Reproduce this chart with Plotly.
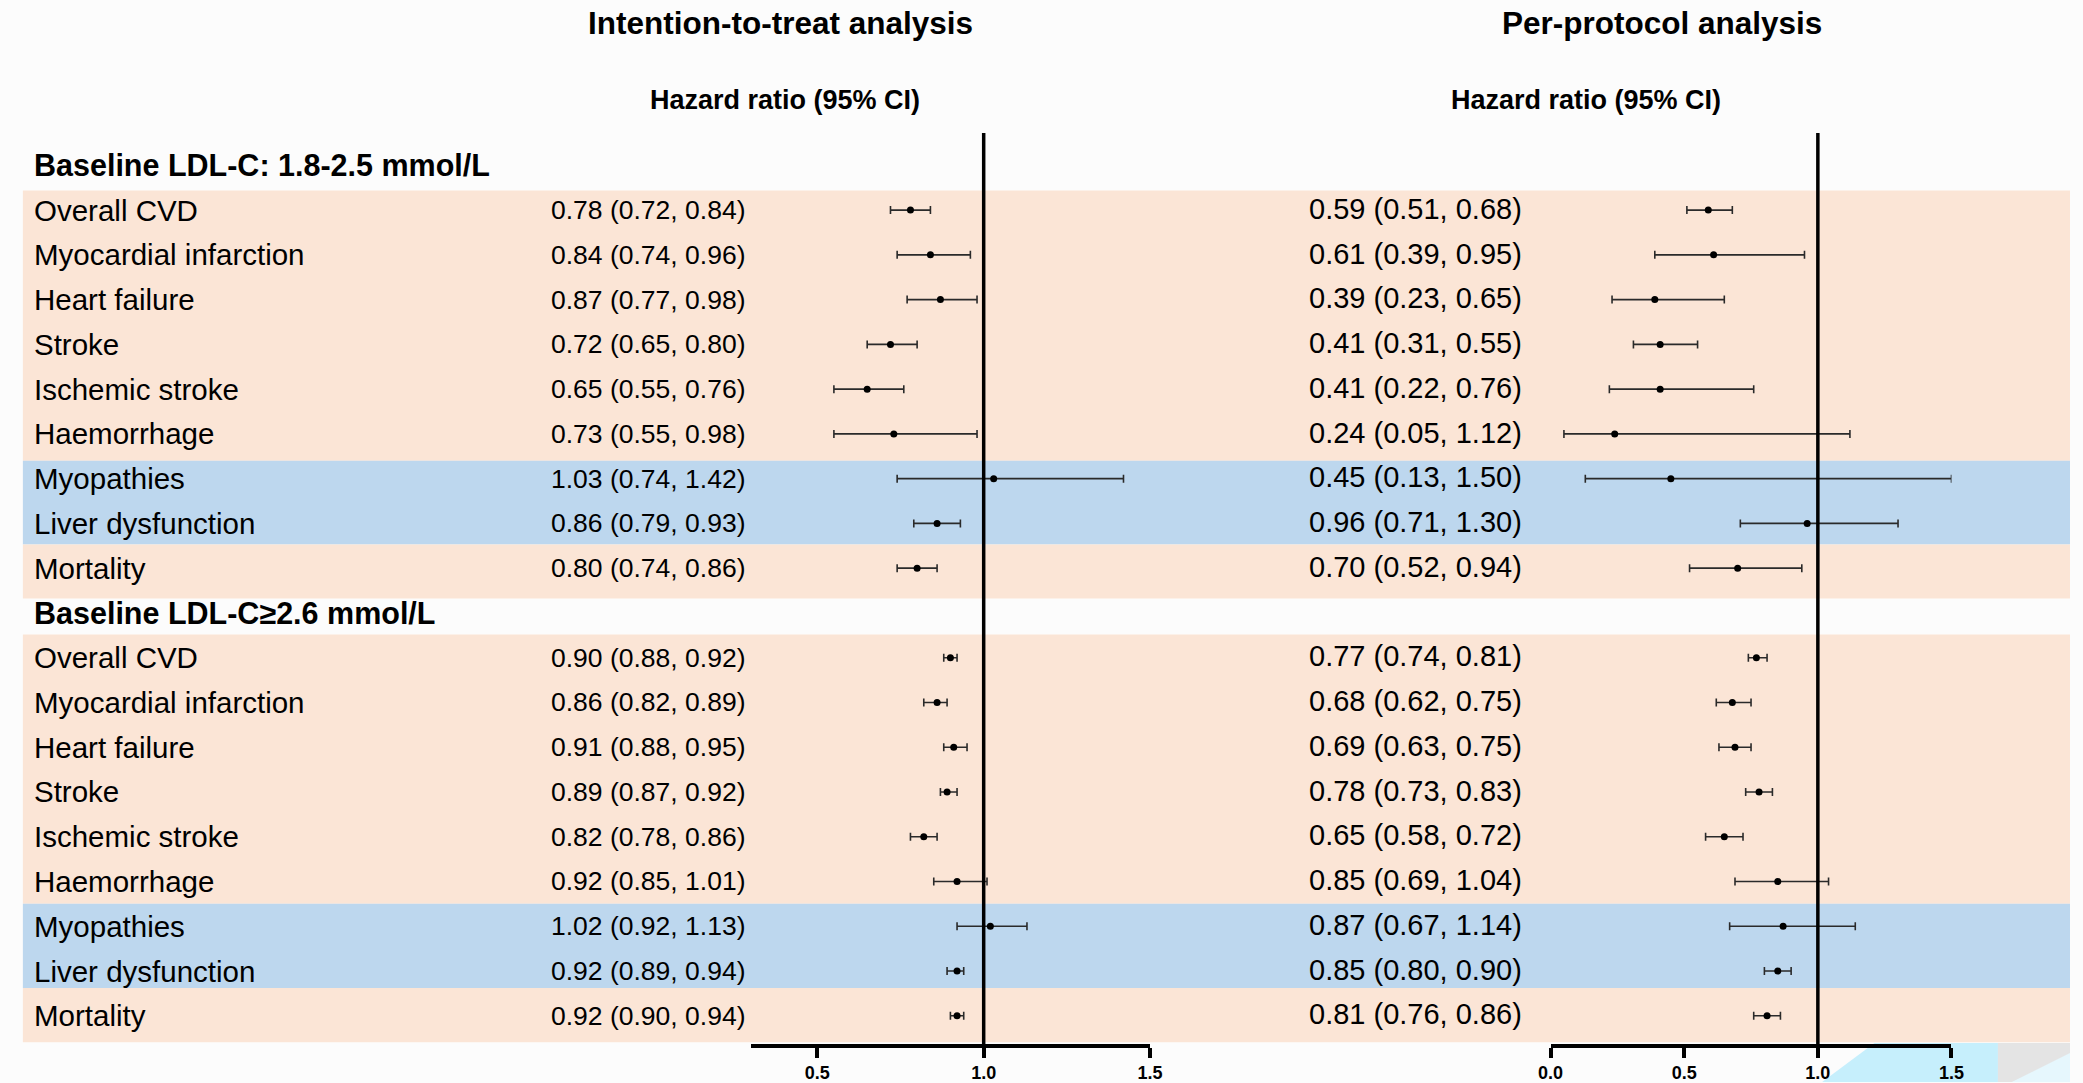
import plotly.graph_objects as go

# ---------------- data ----------------
group_headers = ["Baseline LDL-C: 1.8-2.5 mmol/L", "Baseline LDL-C\u22652.6 mmol/L"]
outcomes = ["Overall CVD", "Myocardial infarction", "Heart failure", "Stroke",
            "Ischemic stroke", "Haemorrhage", "Myopathies", "Liver dysfunction", "Mortality"]

itt_hr_g1 = [0.78, 0.84, 0.87, 0.72, 0.65, 0.73, 1.03, 0.86, 0.80]
itt_lo_g1 = [0.72, 0.74, 0.77, 0.65, 0.55, 0.55, 0.74, 0.79, 0.74]
itt_hi_g1 = [0.84, 0.96, 0.98, 0.80, 0.76, 0.98, 1.42, 0.93, 0.86]
itt_hr_g2 = [0.90, 0.86, 0.91, 0.89, 0.82, 0.92, 1.02, 0.92, 0.92]
itt_lo_g2 = [0.88, 0.82, 0.88, 0.87, 0.78, 0.85, 0.92, 0.89, 0.90]
itt_hi_g2 = [0.92, 0.89, 0.95, 0.92, 0.86, 1.01, 1.13, 0.94, 0.94]

pp_hr_g1 = [0.59, 0.61, 0.39, 0.41, 0.41, 0.24, 0.45, 0.96, 0.70]
pp_lo_g1 = [0.51, 0.39, 0.23, 0.31, 0.22, 0.05, 0.13, 0.71, 0.52]
pp_hi_g1 = [0.68, 0.95, 0.65, 0.55, 0.76, 1.12, 1.50, 1.30, 0.94]
pp_hr_g2 = [0.77, 0.68, 0.69, 0.78, 0.65, 0.85, 0.87, 0.85, 0.81]
pp_lo_g2 = [0.74, 0.62, 0.63, 0.73, 0.58, 0.69, 0.67, 0.80, 0.76]
pp_hi_g2 = [0.81, 0.75, 0.75, 0.83, 0.72, 1.04, 1.14, 0.90, 0.86]

left_ticks = [0.5, 1.0, 1.5]
left_ticktext = ["0.5", "1.0", "1.5"]
right_ticks = [0.0, 0.5, 1.0, 1.5]
right_ticktext = ["0.0", "0.5", "1.0", "1.5"]

titles = ["Intention-to-treat analysis", "Per-protocol analysis"]
col_header = "Hazard ratio (95% CI)"

# ---------------- layout constants ----------------
W, H = 2083, 1083
FONT = "Liberation Sans, Arial, Helvetica, sans-serif"
PEACH = "#fbe5d6"
BLUE = "#bdd7ee"
BG = "#fcfcfc"

# slot positions: header slot 0, rows 1..9, header 10, rows 11..19
g1_slots = list(range(1, 10))
g2_slots = list(range(11, 20))
header_slots = [0, 10]

def px_to_paper_x(p):
    return p / W

def px_to_paper_y(p):
    return 1 - p / H

Y0_PX, ROW_PX = 165.5, 44.8
y_top = (0 - Y0_PX) / ROW_PX
y_bot = (H - Y0_PX) / ROW_PX
axis_px = 1047
axis_slot = (axis_px - Y0_PX) / ROW_PX
vline_top_slot = (133 - Y0_PX) / ROW_PX

def fmt(h, l, u):
    return f"{h:.2f} ({l:.2f}, {u:.2f})"

fig = go.Figure()

# background bands (slot units)
bands = [(0.56, 6.6, PEACH), (6.6, 8.47, BLUE), (8.47, 9.68, PEACH),
         (10.48, 16.5, PEACH), (16.5, 18.38, BLUE), (18.38, 19.59, PEACH)]
shapes = []
for y0, y1, c in bands:
    shapes.append(dict(type="rect", xref="paper", yref="y", x0=10 / W, x1=1,
                       y0=y0, y1=y1, fillcolor=c, line=dict(width=0), layer="below"))

# decorative corner pieces (bottom-right)
def path(points):
    s = "M " + " L ".join(f"{px_to_paper_x(x)},{px_to_paper_y(y)}" for x, y in points) + " Z"
    return s
shapes.append(dict(type="path", xref="paper", yref="paper",
                   path=path([(1832, 1083), (1885, 1044), (2010, 1044), (2010, 1083)]),
                   fillcolor="#c6effc", line=dict(width=0), layer="below"))
shapes.append(dict(type="path", xref="paper", yref="paper",
                   path=path([(2010, 1044), (2083, 1044), (2083, 1083), (2010, 1083)]),
                   fillcolor="#e4e4e4", line=dict(width=0), layer="below"))
shapes.append(dict(type="path", xref="paper", yref="paper",
                   path=path([(2024, 1083), (2083, 1054), (2083, 1083)]),
                   fillcolor="#e6f7fd", line=dict(width=0), layer="below"))

# reference lines at HR = 1
for xr in ["x", "x2"]:
    shapes.append(dict(type="line", xref=xr, yref="y", x0=1, x1=1,
                       y0=vline_top_slot, y1=axis_slot,
                       line=dict(color="black", width=3.5)))

def add_forest(hr, lo, hi, slots, xaxis):
    fig.add_trace(go.Scatter(
        x=hr, y=slots, mode="markers", xaxis=xaxis, yaxis="y",
        marker=dict(color="black", size=7),
        error_x=dict(type="data", symmetric=False,
                     array=[u - h for h, u in zip(hr, hi)],
                     arrayminus=[h - l for h, l in zip(hr, lo)],
                     color="#2a2a2a", thickness=1.6, width=4),
        cliponaxis=False, showlegend=False, hoverinfo="skip"))

add_forest(itt_hr_g1, itt_lo_g1, itt_hi_g1, g1_slots, "x")
add_forest(itt_hr_g2, itt_lo_g2, itt_hi_g2, g2_slots, "x")
add_forest(pp_hr_g1, pp_lo_g1, pp_hi_g1, g1_slots, "x2")
add_forest(pp_hr_g2, pp_lo_g2, pp_hi_g2, g2_slots, "x2")

ann = []
# titles
for t, cx in zip(titles, [777, 1670]):
    ann.append(dict(text=t, x=px_to_paper_x(cx), y=px_to_paper_y(23), xref="paper", yref="paper",
                    xanchor="center", yanchor="middle", showarrow=False,
                    font=dict(family=FONT, size=31.5, color="black", weight="bold")))
for cx in [782, 1593]:
    ann.append(dict(text=col_header, x=px_to_paper_x(cx), y=px_to_paper_y(100), xref="paper", yref="paper",
                    xanchor="center", yanchor="middle", showarrow=False,
                    font=dict(family=FONT, size=27, color="black", weight="bold")))
# group headers
for gh, s in zip(group_headers, header_slots):
    ann.append(dict(text=gh, x=px_to_paper_x(19), y=s, xref="paper", yref="y",
                    xanchor="left", yanchor="middle", showarrow=False,
                    font=dict(family=FONT, size=30.5, color="black", weight="bold")))
# outcome labels and values
for slots, (ih, il, iu), (ph, pl, pu) in [
        (g1_slots, (itt_hr_g1, itt_lo_g1, itt_hi_g1), (pp_hr_g1, pp_lo_g1, pp_hi_g1)),
        (g2_slots, (itt_hr_g2, itt_lo_g2, itt_hi_g2), (pp_hr_g2, pp_lo_g2, pp_hi_g2))]:
    for i, s in enumerate(slots):
        ann.append(dict(text=outcomes[i], x=px_to_paper_x(19), y=s, xref="paper", yref="y",
                        xanchor="left", yanchor="middle", showarrow=False,
                        font=dict(family=FONT, size=29.5, color="black")))
        ann.append(dict(text=fmt(ih[i], il[i], iu[i]), x=px_to_paper_x(543), y=s, xref="paper", yref="y",
                        xanchor="left", yanchor="middle", showarrow=False,
                        font=dict(family=FONT, size=26.5, color="black")))
        ann.append(dict(text=fmt(ph[i], pl[i], pu[i]), x=px_to_paper_x(1310), y=s - 0.03, xref="paper", yref="y",
                        xanchor="left", yanchor="middle", showarrow=False,
                        font=dict(family=FONT, size=29, color="black")))

axis_common = dict(showgrid=False, zeroline=False, showline=True, linecolor="black",
                   linewidth=3.5, ticks="outside", ticklen=10, tickwidth=3.5, tickcolor="black",
                   anchor="free", position=px_to_paper_y(axis_px),
                   tickfont=dict(family=FONT, size=18, color="black", weight="bold"),
                   fixedrange=True)

fig.update_layout(
    width=W, height=H,
    margin=dict(l=0, r=0, t=0, b=0),
    paper_bgcolor=BG, plot_bgcolor="rgba(0,0,0,0)",
    xaxis=dict(domain=[747 / W, 1151.5 / W], range=[0.3, 1.5],
               tickvals=left_ticks, ticktext=left_ticktext, **axis_common),
    xaxis2=dict(domain=[1557 / W, 1963 / W], range=[0.0, 1.5],
                tickvals=right_ticks, ticktext=right_ticktext, **axis_common),
    yaxis=dict(domain=[0, 1], range=[y_bot, y_top], visible=False, fixedrange=True),
    shapes=shapes, annotations=ann, showlegend=False,
)

fig.write_html(
    "out.html",
    config={"displayModeBar": False},
    post_script="document.body.style.margin='0';document.body.style.padding='0';"
                "document.documentElement.style.overflow='hidden';document.body.style.overflow='hidden';",
)
